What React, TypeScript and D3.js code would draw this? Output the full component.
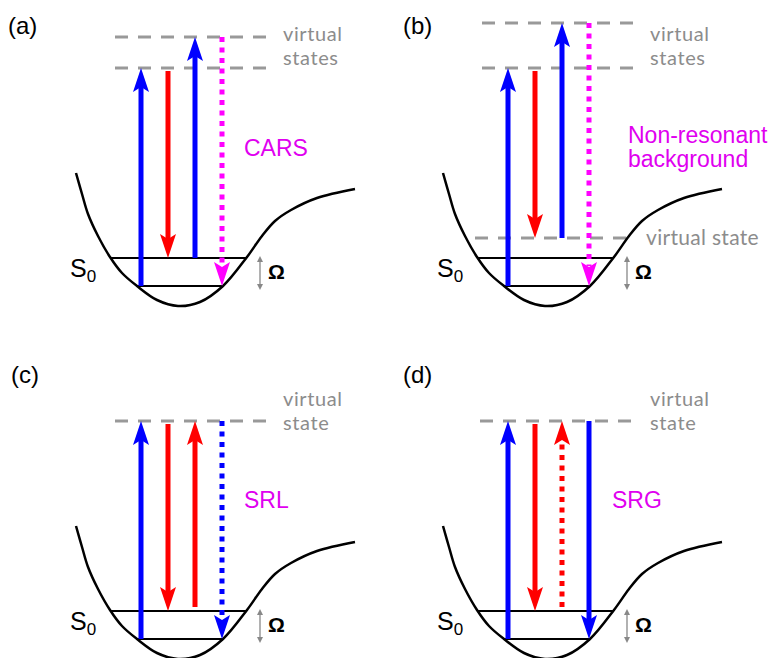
import React from "react";
import * as d3 from "d3";

// ---------- data ----------
const panelIds = ["a", "b", "c", "d"];
const panelCol = [0, 1, 0, 1];
const panelRow = [0, 0, 1, 1];

// energies (arbitrary units, 1 unit = 1 px)
const vibLevels = [0, 28];
const vibLevelSpan = [[137, 223], [111, 247]];

// virtual states per panel: [energy, xStart, xEnd]
const virtualA = [[218, 115, 267], [249, 115, 267]];
const virtualB = [[218, 115, 270], [263, 115, 270], [48, 108, 263]];
const virtualC = [[218, 115, 267]];
const virtualD = [[218, 113, 265]];

// arrows: [slot, fromE, toE, colour, dotted]
const arrowsA = [[0, 0, 218, "blue", 0], [1, 215, 28, "red", 0], [2, 28, 249, "blue", 0], [3, 249, 0, "magenta", 1]];
const arrowsB = [[0, 0, 218, "blue", 0], [1, 215, 48, "red", 0], [2, 48, 263, "blue", 0], [3, 263, 0, "magenta", 1]];
const arrowsC = [[0, 0, 218, "blue", 0], [1, 215, 28, "red", 0], [2, 32, 218, "red", 0], [3, 218, 0, "blue", 1]];
const arrowsD = [[0, 0, 218, "blue", 0], [1, 215, 28, "red", 0], [2, 32, 218, "red", 1], [3, 218, 0, "blue", 0]];

const processNames = [["CARS"], ["Non-resonant", "background"], ["SRL"], ["SRG"]];
const virtualLabels = [["virtual", "states"], ["virtual", "states"], ["virtual", "state"], ["virtual", "state"]];

// potential energy curve: [coordinate, energy]
const potential = [
  [76, 113], [82, 92], [88, 72], [98, 50], [110, 29], [122, 13], [137, 0], [157, -14],
  [178, -20], [200, -16], [223, 0], [247, 29], [262, 50], [275, 65], [291, 76], [317, 88], [355, 97],
];

const colours: Record<string, string> = { blue: "#0000ff", red: "#ff0000", magenta: "#ff00ff" };

// ---------- scales ----------
const yE = d3.scaleLinear().domain([0, 286]).range([286, 0]);
const xSlot = d3.scalePoint<number>().domain([0, 1, 2, 3]).range([141, 222]);
const xQ = d3.scaleLinear().domain([0, 100]).range([0, 100]);
const panelX = d3.scalePoint<number>().domain([0, 1]).range([0, 367]);
const panelY = d3.scalePoint<number>().domain([0, 1]).range([0, 353]);

const curveLine = d3
  .line<number[]>()
  .x((d) => xQ(d[0]))
  .y((d) => yE(d[1]))
  .curve(d3.curveCatmullRom.alpha(0.5));

const SANS = "Liberation Sans, Arial, sans-serif";

function Arrow({ a }: { a: any[] }) {
  const [slot, fromE, toE, col, dotted] = a;
  const x = xSlot(slot) as number;
  const y0 = yE(fromE);
  const yt = yE(toE);
  const dir = y0 > yt ? 1 : -1; // 1: pointing up
  const L = 24, notch = 19, hw = 8;
  const c = colours[col];
  const shaftEnd = yt + dir * (dotted ? notch + 1 : notch - 1);
  const head = `M${x},${yt} L${x + hw},${yt + dir * L} L${x},${yt + dir * notch} L${x - hw},${yt + dir * L} Z`;
  return (
    <g>
      <line
        x1={x}
        x2={x}
        y1={y0}
        y2={shaftEnd}
        stroke={c}
        strokeWidth={5}
        strokeDasharray={dotted ? "5 5.5" : undefined}
      />
      <path d={head} fill={c} />
    </g>
  );
}

function Panel({ i }: { i: number }) {
  const tx = panelX(panelCol[i]) as number;
  const ty = panelY(panelRow[i]) as number;
  const virtuals = [virtualA, virtualB, virtualC, virtualD][i];
  const arrows = [arrowsA, arrowsB, arrowsC, arrowsD][i];
  const lab = virtualLabels[i];
  const twoLevel = i < 2;
  const labelY = twoLevel ? [41, 65] : [53, 77];
  const nameY = i === 1 ? [143, 167] : i === 0 ? [156] : [155];
  const nameX = [244, 261, 244, 245][i];
  return (
    <g transform={`translate(${tx},${ty})`}>
      <text x={[8, 36, 11, 36][i]} y={i < 2 ? 34 : 30} fontFamily={SANS} fontSize={24} fill="#000">
        ({panelIds[i]})
      </text>
      {/* virtual states */}
      {virtuals.map((v, k) => (
        <line
          key={k}
          x1={v[1]}
          x2={v[2]}
          y1={yE(v[0])}
          y2={yE(v[0])}
          stroke="#999999"
          strokeWidth={3}
          strokeDasharray="13 10"
        />
      ))}
      {lab.map((s, k) => (
        <text
          key={k}
          x={283}
          y={labelY[k]}
          fontFamily="Lato, sans-serif"
          fontSize={20}
          letterSpacing={0.6}
          fill="#8c8c8c"
        >
          {s}
        </text>
      ))}
      {i === 1 && (
        <text x={279} y={245} fontFamily="Lato, sans-serif" fontSize={21} letterSpacing={0.3} fill="#8c8c8c">
          virtual state
        </text>
      )}
      {/* potential curve */}
      <path d={curveLine(potential) || ""} fill="none" stroke="#000" strokeWidth={2.5} />
      {vibLevels.map((e, k) => (
        <line
          key={k}
          x1={vibLevelSpan[k][0]}
          x2={vibLevelSpan[k][1]}
          y1={yE(e)}
          y2={yE(e)}
          stroke="#000"
          strokeWidth={2}
        />
      ))}
      {arrows.map((a, k) => (
        <Arrow key={k} a={a} />
      ))}
      {processNames[i].map((s, k) => (
        <text key={k} x={nameX} y={nameY[k]} fontFamily={SANS} fontSize={23} fill="#e000f0">
          {s}
        </text>
      ))}
      {/* S0 label */}
      <text x={70} y={277} fontFamily={SANS} fontSize={25} fill="#000">
        S
        <tspan fontSize={17} dy={5}>
          0
        </tspan>
      </text>
      {/* Omega marker */}
      <g stroke="#888" strokeWidth={1.3} fill="#888">
        <line x1={260} x2={260} y1={yE(30) + 2} y2={yE(-4) - 2} />
        <path d={`M260,${yE(30)} l-3,6 l6,0 Z`} stroke="none" />
        <path d={`M260,${yE(-4)} l-3,-6 l6,0 Z`} stroke="none" />
      </g>
      <text x={268} y={279} fontFamily={SANS} fontWeight="bold" fontSize={21} fill="#000">
        Ω
      </text>
    </g>
  );
}

export default function App() {
  return (
    <svg
      width={775}
      height={658}
      viewBox="0 0 775 658"
      style={{ position: "absolute", left: 0, top: 0, background: "#fff" }}
    >
      <rect width={775} height={658} fill="#fff" />
      {panelIds.map((_, i) => (
        <Panel key={i} i={i} />
      ))}
    </svg>
  );
}
